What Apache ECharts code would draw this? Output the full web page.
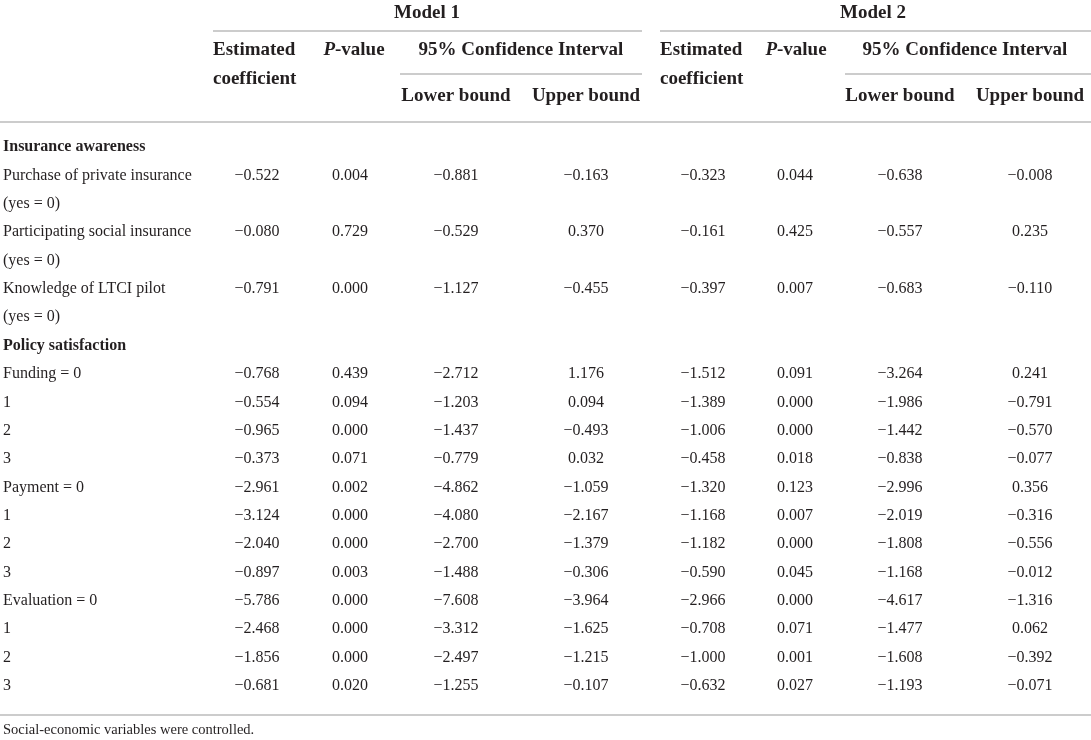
<!DOCTYPE html>
<html>
<head>
<meta charset="utf-8">
<script src="https://cdn.jsdelivr.net/npm/echarts@6/dist/echarts.min.js"></script>
<style>
  html, body { margin: 0; padding: 0; background: #fff; }
  #main { width: 1091px; height: 740px; }
</style>
</head>
<body>
<div id="main"></div>
<script>
// row labels, top to bottom
const rowLabels = [
    'Insurance awareness',
    'Purchase of private insurance',
    '(yes = 0)',
    'Participating social insurance',
    '(yes = 0)',
    'Knowledge of LTCI pilot',
    '(yes = 0)',
    'Policy satisfaction',
    'Funding = 0', '1', '2', '3',
    'Payment = 0', '1', '2', '3',
    'Evaluation = 0', '1', '2', '3'
];
const sectionHeads = ['Insurance awareness', 'Policy satisfaction'];

// Model 1
const m1Coef  = [null, -0.522, null, -0.080, null, -0.791, null, null, -0.768, -0.554, -0.965, -0.373, -2.961, -3.124, -2.040, -0.897, -5.786, -2.468, -1.856, -0.681];
const m1P     = [null,  0.004, null,  0.729, null,  0.000, null, null,  0.439,  0.094,  0.000,  0.071,  0.002,  0.000,  0.000,  0.003,  0.000,  0.000,  0.000,  0.020];
const m1Lower = [null, -0.881, null, -0.529, null, -1.127, null, null, -2.712, -1.203, -1.437, -0.779, -4.862, -4.080, -2.700, -1.488, -7.608, -3.312, -2.497, -1.255];
const m1Upper = [null, -0.163, null,  0.370, null, -0.455, null, null,  1.176,  0.094, -0.493,  0.032, -1.059, -2.167, -1.379, -0.306, -3.964, -1.625, -1.215, -0.107];

// Model 2
const m2Coef  = [null, -0.323, null, -0.161, null, -0.397, null, null, -1.512, -1.389, -1.006, -0.458, -1.320, -1.168, -1.182, -0.590, -2.966, -0.708, -1.000, -0.632];
const m2P     = [null,  0.044, null,  0.425, null,  0.007, null, null,  0.091,  0.000,  0.000,  0.018,  0.123,  0.007,  0.000,  0.045,  0.000,  0.071,  0.001,  0.027];
const m2Lower = [null, -0.638, null, -0.557, null, -0.683, null, null, -3.264, -1.986, -1.442, -0.838, -2.996, -2.019, -1.808, -1.168, -4.617, -1.477, -1.608, -1.193];
const m2Upper = [null, -0.008, null,  0.235, null, -0.110, null, null,  0.241, -0.791, -0.570, -0.077,  0.356, -0.316, -0.556, -0.012, -1.316,  0.062, -0.392, -0.071];

const footnote = 'Social-economic variables were controlled.';

// layout
const W = 1091;
const colX = [257, 350, 456, 586, 703, 795, 900, 1030]; // column centres
const columns = [m1Coef, m1P, m1Lower, m1Upper, m2Coef, m2P, m2Lower, m2Upper];
const textColor = '#231f20';
const ruleColor = '#cccccc';
const serif = '"Liberation Serif", "DejaVu Serif", serif';
const bodyFont = '16px ' + serif;
const headFont = 'bold 19px ' + serif;

function fmt(v) {
    const s = Math.abs(v).toFixed(3);
    return v < 0 ? '\u2212' + s : s;
}

// cells -> one custom series on value axes (row index on y)
const cells = [];
rowLabels.forEach(function (label, i) {
    cells.push({ x: 3, row: i, text: label, align: 'left', bold: sectionHeads.indexOf(label) >= 0 });
    columns.forEach(function (col, c) {
        if (col[i] !== null) {
            cells.push({ x: colX[c], row: i, text: fmt(col[i]), align: 'center', bold: false });
        }
    });
});

function hText(x, y, text, align, font) {
    return {
        type: 'text', x: x, y: y, silent: true,
        style: { text: text, textAlign: align || 'center', textVerticalAlign: 'middle', font: font || headFont, fill: textColor }
    };
}
function pValueHead(x) {
    return {
        type: 'text', x: x, y: 50, silent: true,
        style: {
            text: '{i|P}-value', textAlign: 'center', textVerticalAlign: 'middle', font: headFont, fill: textColor,
            rich: { i: { fontStyle: 'italic', fontWeight: 'bold', fontSize: 19, fontFamily: serif, fill: textColor } }
        }
    };
}
function rule(x1, x2, y, w) {
    return {
        type: 'line', silent: true,
        shape: { x1: x1, y1: y, x2: x2, y2: y },
        style: { stroke: ruleColor, lineWidth: w || 2 }
    };
}

const headerGraphics = [
    hText(427, 13, 'Model 1'),
    hText(873, 13, 'Model 2'),
    rule(213, 642, 31),
    rule(660, W, 31),
    hText(213, 50, 'Estimated', 'left'),
    hText(213, 79, 'coefficient', 'left'),
    hText(660, 50, 'Estimated', 'left'),
    hText(660, 79, 'coefficient', 'left'),
    pValueHead(354),
    pValueHead(796),
    hText(521, 50, '95% Confidence Interval'),
    hText(965, 50, '95% Confidence Interval'),
    rule(400, 642, 74),
    rule(845, W, 74),
    hText(456, 96, 'Lower bound'),
    hText(586, 96, 'Upper bound'),
    hText(900, 96, 'Lower bound'),
    hText(1030, 96, 'Upper bound'),
    rule(0, W, 122),
    rule(0, W, 715),
    hText(3, 730, footnote, 'left', '14.5px ' + serif)
];

const chart = echarts.init(document.getElementById('main'));
chart.setOption({
    animation: false,
    backgroundColor: '#fff',
    grid: { left: 0, right: 0, top: 147, bottom: 54 },
    xAxis: { type: 'value', min: 0, max: W, show: false },
    yAxis: { type: 'value', min: 0, max: rowLabels.length - 1, inverse: true, show: false },
    graphic: headerGraphics,
    series: [{
        type: 'custom',
        silent: true,
        data: cells.map(function (c) { return [c.x, c.row]; }),
        renderItem: function (params, api) {
            const cell = cells[params.dataIndex];
            const p = api.coord([api.value(0), api.value(1)]);
            return {
                type: 'text',
                x: p[0],
                y: p[1],
                style: {
                    text: cell.text,
                    textAlign: cell.align,
                    textVerticalAlign: 'middle',
                    font: cell.bold ? 'bold 16px ' + serif : bodyFont,
                    fill: textColor
                }
            };
        }
    }]
});
</script>
</body>
</html>
